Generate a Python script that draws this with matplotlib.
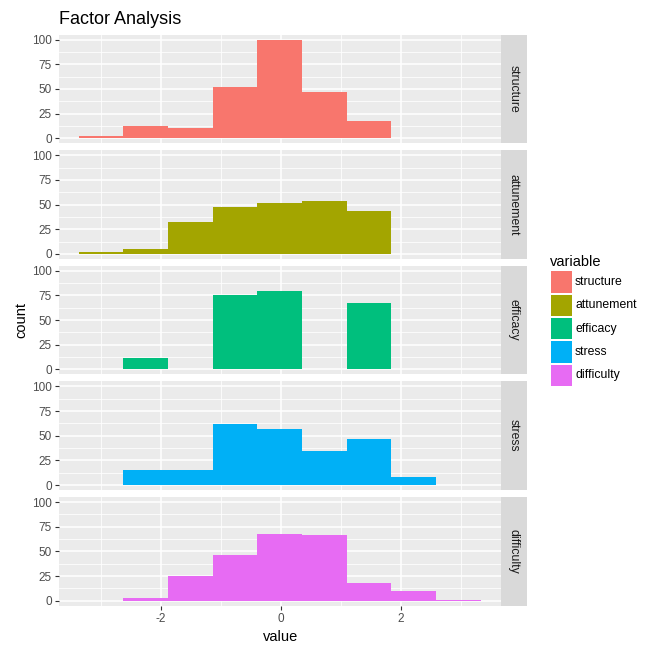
import numpy as np
import matplotlib
matplotlib.use("Agg")
import matplotlib.pyplot as plt
from matplotlib.patches import Rectangle

plt.rcParams['font.family'] = ['Liberation Sans', 'DejaVu Sans']

# ---- data ----
variables = ["structure", "attunement", "efficacy", "stress", "difficulty"]
colors = ["#F8766D", "#A3A500", "#00BF7D", "#00B0F6", "#E76BF3"]
bin_edges = [-3.367, -2.622, -1.878, -1.133, -0.389, 0.356, 1.100, 1.844, 2.589, 3.333]
structure = [2, 12, 10, 52, 100, 47, 18, 0, 0]
attunement = [2, 5, 32, 48, 52, 54, 43, 0, 0]
efficacy = [0, 12, 0, 75, 80, 0, 67, 0, 0]
stress = [0, 15, 15, 62, 57, 35, 47, 8, 0]
difficulty = [0, 3, 25, 46, 68, 67, 18, 10, 1]
counts = [structure, attunement, efficacy, stress, difficulty]
y_ticks = [0, 25, 50, 75, 100]
x_ticks = [-2, 0, 2]
title = "Factor Analysis"

W, H = 652, 646
fig = plt.figure(figsize=(W / 100, H / 100), dpi=100)
fig.patch.set_facecolor("white")

def fx(px):
    return px / W

def fy(py):
    return 1 - py / H

panel_left, panel_right = 58.7, 500.7
strip_w = 26
panel_top0 = 34.7
panel_h = 108.5
step = 115.6

edges = np.array(bin_edges)
widths = np.diff(edges)
xmin = edges[0] - 0.05 * (edges[-1] - edges[0])
xmax = edges[-1] + 0.05 * (edges[-1] - edges[0])

tick_col = "#4D4D4D"
for i, (var, col, cnt) in enumerate(zip(variables, colors, counts)):
    top = panel_top0 + i * step
    ax = fig.add_axes([fx(panel_left), fy(top + panel_h), fx(panel_right - panel_left), panel_h / H])
    ax.set_facecolor("#EBEBEB")
    ax.bar(edges[:-1], cnt, width=widths, align="edge", color=col, linewidth=0, zorder=3)
    ax.set_xlim(xmin, xmax)
    ax.set_ylim(-5, 105)
    ax.set_yticks(y_ticks)
    ax.set_yticks([12.5, 37.5, 62.5, 87.5], minor=True)
    ax.set_xticks(x_ticks)
    ax.set_xticks([-3, -1, 1, 3], minor=True)
    ax.grid(which="major", color="white", linewidth=1.1, zorder=0)
    ax.grid(which="minor", color="white", linewidth=0.55, zorder=0)
    ax.set_axisbelow(True)
    for s in ax.spines.values():
        s.set_visible(False)
    ax.tick_params(axis="y", which="major", length=3, width=0.8, color="#333333",
                   labelsize=8.5, labelcolor=tick_col, pad=2)
    ax.tick_params(axis="both", which="minor", length=0)
    if i == len(variables) - 1:
        ax.tick_params(axis="x", which="major", length=3, width=0.8, color="#333333",
                       labelsize=8.5, labelcolor=tick_col, pad=2)
        ax.set_xticklabels([str(t) for t in x_ticks])
    else:
        ax.tick_params(axis="x", which="major", length=0, labelbottom=False)
    # strip
    sax = fig.add_axes([fx(panel_right), fy(top + panel_h), fx(strip_w), panel_h / H])
    sax.set_facecolor("#D9D9D9")
    sax.set_xticks([]); sax.set_yticks([])
    for s in sax.spines.values():
        s.set_visible(False)
    sax.text(0.5, 0.5, var, rotation=270, ha="center", va="center",
             fontsize=8.8, color="#1A1A1A", transform=sax.transAxes)

# titles
fig.text(fx(panel_left), fy(24), title, fontsize=13, ha="left", va="baseline", color="black")
fig.text(fx(281), fy(637), "value", fontsize=10.5, ha="center", va="center", color="black")
mid_y = panel_top0 + (4 * step + panel_h) / 2
fig.text(fx(21), fy(mid_y), "count", fontsize=10.5, rotation=90, ha="center", va="center", color="black")

# legend
fig.text(fx(550), fy(266), "variable", fontsize=10.5, ha="left", va="baseline", color="black")
key_top0, key_step, key_size = 271.3, 23.3, 21.5
for j, (var, col) in enumerate(zip(variables, colors)):
    kt = key_top0 + j * key_step
    fig.add_artist(Rectangle((fx(550.5), fy(kt + key_size)), fx(key_size), key_size / H,
                             facecolor=col, edgecolor="none", transform=fig.transFigure))
    fig.text(fx(575), fy(kt + key_size / 2), var, fontsize=8.8, ha="left", va="center", color="black")

fig.savefig("out.png", dpi=100)
